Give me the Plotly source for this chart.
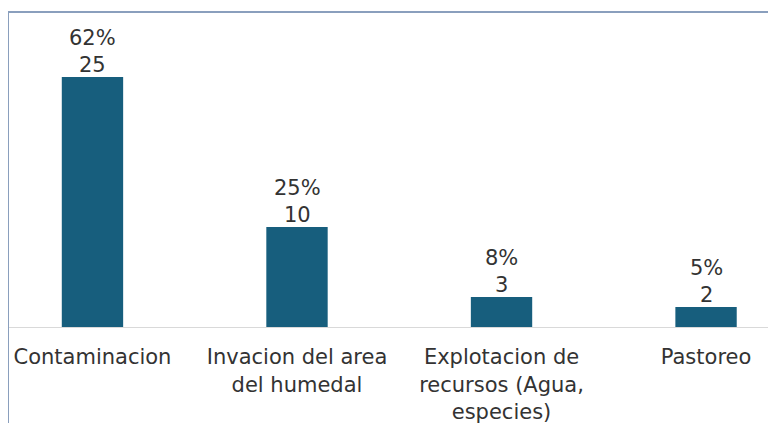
import plotly.graph_objs as go

categories = ['Contaminacion', 'Invacion del area<br>del humedal',
              'Explotacion de<br>recursos (Agua,<br>especies)', 'Pastoreo']
counts = [25, 10, 3, 2]
percents = ['62%', '25%', '8%', '5%']

bar_color = '#175e7d'
frame_color = '#8a9fbd'
text_color = '#333333'
font_family = 'DejaVu Sans'

positions = list(range(len(categories)))

trace = go.Bar(
    x=positions,
    y=counts,
    width=0.3,
    marker=dict(color=bar_color, line=dict(width=0)),
    hoverinfo='x+y',
)

fig = go.Figure(data=[trace])

# value labels: percentage above the count, just over each bar
for pos, c, p in zip(positions, counts, percents):
    fig.add_annotation(
        x=pos, y=c, xref='x', yref='y',
        text=p + '<br>' + str(c),
        showarrow=False,
        yanchor='bottom',
        yshift=-2,
        font=dict(family=font_family, size=21, color=text_color),
    )

# the page body adds an 8px offset, so margins are set relative to that
fig.update_layout(
    width=776,
    height=423,
    margin=dict(l=0, r=8, t=4, b=104, autoexpand=False),
    paper_bgcolor='white',
    plot_bgcolor='white',
    showlegend=False,
    font=dict(family=font_family, size=21, color=text_color),
    xaxis=dict(
        tickmode='array',
        tickvals=positions,
        ticktext=categories,
        range=[-0.413, 3.342],
        showgrid=False,
        zeroline=False,
        showline=True,
        linecolor='#d9d9d9',
        linewidth=1,
        ticks='',
        ticklabelstandoff=11,
        tickfont=dict(family=font_family, size=21, color=text_color),
    ),
    yaxis=dict(
        range=[0, 31.5],
        showgrid=False,
        zeroline=False,
        showticklabels=False,
        showline=False,
    ),
    shapes=[
        dict(type='line', xref='paper', yref='paper', x0=0, x1=1, y0=1, y1=1,
             line=dict(color=frame_color, width=2)),
        dict(type='line', xref='paper', yref='paper', x0=0, x1=0, y0=1, y1=-0.35,
             line=dict(color=frame_color, width=2)),
    ],
)

fig.write_html("out.html")
